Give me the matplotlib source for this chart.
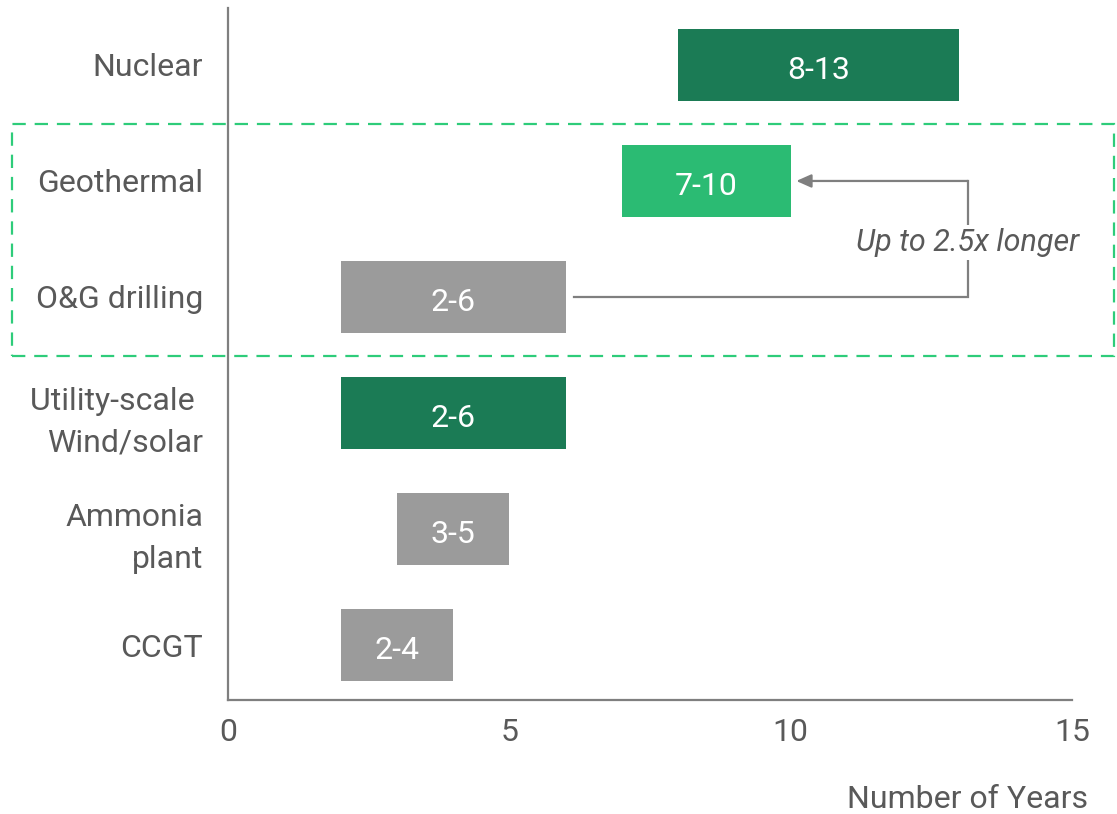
import matplotlib
matplotlib.use("Agg")
import matplotlib.pyplot as plt
from matplotlib.patches import Rectangle

plt.rcParams['font.family'] = ['Roboto', 'DejaVu Sans']

categories = ["Nuclear", "Geothermal", "O&G drilling", "Utility-scale \nWind/solar", "Ammonia\nplant", "CCGT"]
starts = [8, 7, 2, 2, 3, 2]
ends = [13, 10, 6, 6, 5, 4]
labels = ["8-13", "7-10", "2-6", "2-6", "3-5", "2-4"]
colors = ["#1b7b55", "#2bbb73", "#9b9b9b", "#1b7b55", "#9b9b9b", "#9b9b9b"]
xticks = [0, 5, 10, 15]

text_col = "#595959"
axis_col = "#7f7f7f"

fig = plt.figure(figsize=(11.17, 8.14), dpi=100)
ax = fig.add_axes([228/1117, 114/814, (1072-228)/1117, (700-8)/814])

ypos = list(range(len(categories)))
widths = [e - s for s, e in zip(starts, ends)]
ax.barh(ypos, widths, left=starts, height=0.62, color=colors, edgecolor="none")
for y, s, w, lab in zip(ypos, starts, widths, labels):
    ax.text(s + w / 2, y + 0.05, lab, ha="center", va="center", color="white", fontsize=23)

ax.set_xlim(0, 15)
ax.set_ylim(5.474, -0.491)
ax.set_yticks(ypos)
ax.set_yticklabels(categories, fontsize=23, color=text_col, linespacing=1.55)
ax.set_xticks(xticks)
ax.set_xticklabels([str(t) for t in xticks], fontsize=23, color=text_col)
ax.tick_params(axis="both", length=0)
ax.tick_params(axis="y", pad=18)
ax.tick_params(axis="x", pad=13)
for sp in ["top", "right"]:
    ax.spines[sp].set_visible(False)
for sp in ["left", "bottom"]:
    ax.spines[sp].set_color(axis_col)
    ax.spines[sp].set_linewidth(1.6)

fig.text(1088/1117, 1 - 800/814, "Number of Years", ha="right", va="center",
         fontsize=23, color=text_col)

# dashed highlight box
rect = Rectangle((12/1117, 1 - 356/814), (1114-12)/1117, (356-124)/814,
                 transform=fig.transFigure, fill=False, edgecolor="#2ecc7a",
                 linestyle=(0, (6, 4)), linewidth=1.6, clip_on=False)
fig.add_artist(rect)

# connector arrow from O&G to Geothermal
xr = 13.15
ax.plot([6.15, xr, xr], [2, 2, 1], color=axis_col, lw=1.6, solid_joinstyle="miter")
ax.annotate("", xy=(10.1, 1), xytext=(xr, 1),
            arrowprops=dict(arrowstyle="-|>,head_length=0.9,head_width=0.4",
                            color=axis_col, lw=1.6, shrinkA=0, shrinkB=0))
ax.text(xr, 1.53, "Up to 2.5x longer", ha="center", va="center", style="italic",
        fontsize=22, color=text_col,
        bbox=dict(facecolor="white", edgecolor="none", pad=2))

fig.savefig("out.png", dpi=100)
